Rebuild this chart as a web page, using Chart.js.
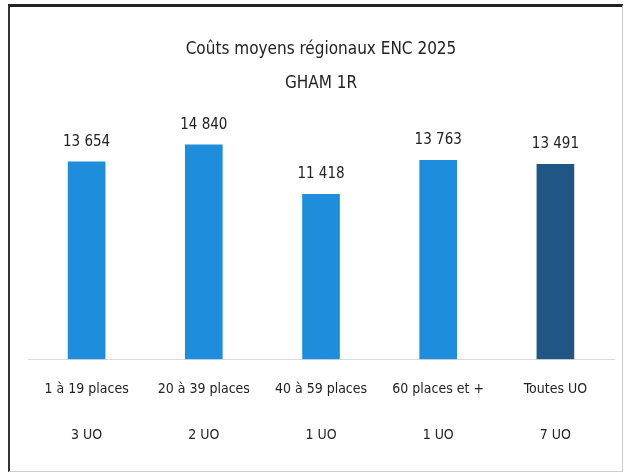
<!DOCTYPE html>
<html>
<head>
<meta charset="utf-8">
<script src="https://cdn.jsdelivr.net/npm/chart.js@4"></script>
<style>
  body { margin: 0; background: #fff; }
  #wrap { position: relative; width: 628px; height: 474px; }
  #frame {
    position: absolute; left: 8px; top: 4px; width: 612px; height: 464px;
    border-top: 3px solid #222; border-left: 2px solid #333;
    border-right: 1px solid #c8c8c8; border-bottom: 1px solid #cfcfcf;
    pointer-events: none;
  }
</style>
</head>
<body>
<div id="wrap">
  <canvas id="chart" width="628" height="474"></canvas>
  <div id="frame"></div>
</div>
<script>
// categories and counts (second line under each label)
var categories = ['1 à 19 places', '20 à 39 places', '40 à 59 places', '60 places et +', 'Toutes UO'];
var unitCounts = ['3 UO', '2 UO', '1 UO', '1 UO', '7 UO'];
var costs = [13654, 14840, 11418, 13763, 13491];
var barColors = ['#1d8ddc', '#1d8ddc', '#1d8ddc', '#1d8ddc', '#1f5684'];

var FONT = "'Liberation Sans Narrow', 'DejaVu Sans Condensed', sans-serif";

function fmt(v) {
  return String(v).replace(/\B(?=(\d{3})+(?!\d))/g, ' ');
}

// value labels above bars
var valueLabels = {
  id: 'valueLabels',
  afterDatasetsDraw: function(chart) {
    var ctx = chart.ctx;
    var meta = chart.getDatasetMeta(0);
    ctx.save();
    ctx.font = '15px ' + FONT;
    ctx.fillStyle = '#222';
    ctx.textAlign = 'center';
    ctx.textBaseline = 'middle';
    meta.data.forEach(function(bar, i) {
      ctx.fillText(fmt(costs[i]), bar.x, bar.y - 20);
    });
    ctx.restore();
  }
};

var labels = categories.map(function(c, i) { return [c, '', unitCounts[i]]; });

new Chart(document.getElementById('chart'), {
  type: 'bar',
  data: {
    labels: labels,
    datasets: [{
      data: costs,
      backgroundColor: barColors,
      barThickness: 37
    }]
  },
  options: {
    responsive: false,
    animation: false,
    layout: { padding: { left: 28, right: 14, top: 33, bottom: 9 } },
    plugins: {
      legend: { display: false },
      tooltip: { enabled: false },
      title: {
        display: true,
        text: ['Coûts moyens régionaux ENC 2025', 'GHAM 1R'],
        color: '#222',
        font: { family: FONT, size: 17, weight: 'normal', lineHeight: 2.0 },
        padding: { top: 0, bottom: 27 }
      }
    },
    scales: {
      x: {
        grid: { display: false, drawTicks: false },
        border: { display: true, color: '#d9d9d9', width: 1 },
        ticks: {
          color: '#222',
          padding: 18,
          maxRotation: 0,
          autoSkip: false,
          font: { family: FONT, size: 14, lineHeight: 1.66 }
        }
      },
      y: {
        display: false,
        min: 0,
        max: 16000
      }
    }
  },
  plugins: [valueLabels]
});
</script>
</body>
</html>
